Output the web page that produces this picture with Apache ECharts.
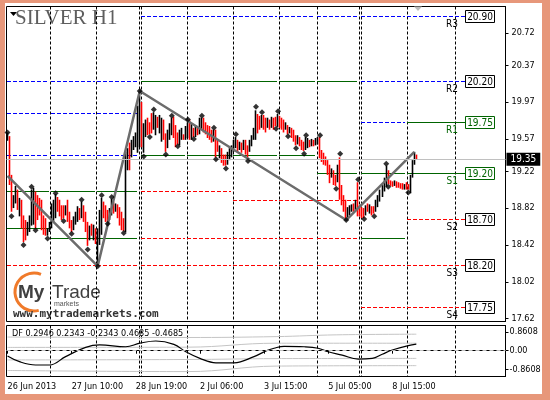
<!DOCTYPE html>
<html><head><meta charset="utf-8">
<script src="https://cdn.jsdelivr.net/npm/echarts/dist/echarts.min.js"></script>
<style>
html,body{margin:0;padding:0;background:#fff;}
#wrap{position:relative;width:550px;height:400px;background:#e7977a;overflow:hidden;}
#inner{position:absolute;left:5px;top:3px;width:537px;height:391px;background:#fff;}
#chart{position:absolute;left:0;top:0;width:550px;height:400px;}
</style></head><body>
<div id="wrap"><div id="inner"></div><div id="chart"></div></div>
<script>
const FONT = '"DejaVu Sans Condensed","Liberation Sans",sans-serif';
const N_CAT = 249;

// ---- axis ticks ----
const yTicks = [20.72, 20.37, 19.97, 19.57, 19.22, 18.82, 18.42, 18.02, 17.62];
const dfTicks = [0.8608, 0, -0.8608];
const xTickIdx = [0, 32, 64, 96, 128, 160, 192];
const xTickLabels = ['26 Jun 2013', '27 Jun 10:00', '28 Jun 19:00', '2 Jul 06:00', '3 Jul 15:00', '5 Jul 05:00', '8 Jul 15:00'];
const separators = [22, 45, 66, 67, 90, 113, 136, 155, 176, 177, 200, 224];
const dayStart = [0, 22, 45, 66, 67, 90, 113, 136, 155, 176, 177, 200];
const dayEnd   = [21, 44, 65, 66, 89, 112, 135, 154, 175, 176, 199, 229];

// ---- hourly bars (high / low / direction) ----
const highs = [
19.64,19.60,19.18,18.96,19.06,19.02,18.93,18.91,18.74,18.69,
18.67,18.74,19.02,19.04,19.00,18.96,18.93,18.91,18.74,18.71,
18.60,18.67,18.87,18.91,18.97,18.94,18.91,18.85,18.85,18.85,
18.91,18.78,18.69,18.73,18.78,18.84,18.82,18.89,18.85,18.78,
18.67,18.63,18.65,18.64,18.60,18.60,18.80,18.93,18.89,18.85,
18.80,18.82,18.92,18.89,18.87,18.86,18.83,18.78,18.71,19.43,
19.47,19.53,19.56,19.60,19.64,19.93,20.08,19.97,19.74,19.78,
19.80,19.75,19.85,19.86,19.83,19.81,19.83,19.80,19.78,19.63,
19.67,19.74,19.80,19.81,19.72,19.64,19.67,19.69,19.62,19.71,
19.75,19.78,19.74,19.69,19.72,19.69,19.80,19.80,19.80,19.75,
19.72,19.71,19.67,19.67,19.67,19.56,19.50,19.47,19.40,19.40,
19.43,19.47,19.50,19.56,19.59,19.56,19.54,19.53,19.56,19.56,
19.50,19.56,19.61,19.69,19.88,19.84,19.82,19.83,19.83,19.80,
19.80,19.78,19.81,19.80,19.81,19.84,19.82,19.80,19.78,19.75,
19.72,19.70,19.69,19.67,19.61,19.61,19.59,19.56,19.54,19.59,
19.58,19.56,19.57,19.56,19.58,19.59,19.59,19.45,19.42,19.38,
19.34,19.29,19.25,19.23,19.18,19.29,19.37,19.07,18.96,18.91,
18.83,18.85,18.86,18.87,18.91,19.10,18.85,18.83,18.82,18.85,
18.87,18.86,18.84,18.84,18.91,18.96,19.02,19.07,19.15,19.28,
19.23,19.12,19.11,19.12,19.11,19.10,19.09,19.09,19.08,19.10,
19.08,19.18,19.34,19.43,19.40];
const lows = [
19.55,19.07,18.78,18.82,18.87,18.80,18.73,18.60,18.45,18.47,
18.52,18.56,18.63,18.64,18.60,18.69,18.74,18.58,18.53,18.52,
18.52,18.56,18.60,18.67,18.71,18.78,18.73,18.69,18.71,18.74,
18.67,18.60,18.56,18.58,18.64,18.67,18.69,18.71,18.67,18.56,
18.41,18.47,18.52,18.47,18.43,18.20,18.42,18.53,18.71,18.67,
18.67,18.69,18.74,18.76,18.78,18.71,18.63,18.58,18.57,18.56,
19.23,19.23,19.37,19.45,19.48,19.42,19.48,19.48,19.42,19.59,
19.61,19.62,19.63,19.67,19.61,19.69,19.63,19.54,19.56,19.43,
19.47,19.56,19.61,19.58,19.48,19.51,19.50,19.56,19.56,19.56,
19.58,19.56,19.56,19.59,19.59,19.61,19.62,19.67,19.64,19.62,
19.58,19.56,19.53,19.54,19.37,19.43,19.36,19.31,19.28,19.28,
19.29,19.34,19.37,19.43,19.47,19.43,19.45,19.42,19.45,19.40,
19.36,19.43,19.49,19.56,19.56,19.63,19.67,19.69,19.67,19.64,
19.69,19.67,19.69,19.67,19.71,19.70,19.69,19.67,19.64,19.67,
19.62,19.63,19.58,19.54,19.50,19.51,19.49,19.45,19.44,19.45,
19.47,19.48,19.49,19.49,19.50,19.51,19.36,19.32,19.29,19.28,
19.18,19.09,19.15,19.07,19.06,19.10,18.91,18.85,18.78,18.70,
18.71,18.74,18.78,18.78,18.80,18.73,18.73,18.71,18.71,18.74,
18.78,18.76,18.74,18.76,18.78,18.83,18.89,18.94,19.00,19.05,
19.08,19.06,19.05,19.06,19.04,19.04,19.03,19.02,19.02,19.02,
19.02,18.98,19.15,19.29,19.35];
const barDir = (
'UDDUUDUDDD' + 'UUUUDDDDDD' + 'UUUUUDDDDU' + 'DDDUUUDUDD' + 'DUDUDUUUDD' +
'DUUDUDDDDU' + 'UDUUUUUDUU' + 'DDDUUDUUDD' + 'UUUDDDUUDU' + 'UDUDUDUUDD' +
'DDDUDDUDDD' + 'UUUUUDUDUD' + 'DUUUUDDUDD' + 'UDUDDUDDDU' + 'DUDDDUDDDU' +
'UDUDUUDDDD' + 'DDUDDUDDDD' + 'UUUDUDDDDU' + 'DUDDUUUUUU' + 'DDDUDDDDUD' + 'DUUUD').split('');

// ---- zigzag and fractals ----
const zigzag = [[0, 19.17], [45, 18.19], [66, 20.09], [169, 18.69], [203, 19.43]];
const fracUp = [[0,19.64],[12,19.05],[24,18.98],[37,18.91],[47,18.96],[52,18.94],[66,20.09],[73,19.89],[82,19.82],[90,19.78],[97,19.82],[103,19.69],[114,19.62],[124,19.92],[127,19.86],[135,19.87],[149,19.61],[156,19.61],[166,19.41],[175,19.13],[189,19.30]];
const fracDn = [[2,18.73],[8,18.42],[14,18.58],[20,18.49],[28,18.68],[32,18.54],[40,18.37],[45,18.19],[50,18.65],[58,18.55],[68,19.38],[71,19.59],[79,19.40],[85,19.49],[93,19.57],[104,19.35],[109,19.25],[120,19.33],[134,19.68],[140,19.60],[144,19.47],[148,19.41],[164,19.03],[169,18.69],[178,18.70],[183,18.73],[190,19.05],[200,18.99]];
const lastPrice = 19.35;

// ---- pivot levels: [price, style(0 blue dash,1 red dash,2 green), firstDay, lastDay] ----
const levels = [
 [20.20,0,0,2],[19.85,0,0,2],[19.40,0,0,2],[19.00,2,0,2],[18.60,2,0,0],[18.50,2,1,2],[18.20,1,0,2],
 [20.90,0,4,11],[20.20,2,4,8],[19.40,2,4,7],[19.00,1,4,5],[18.91,1,6,8],[18.50,1,4,8],[18.20,1,4,8],[19.20,2,8,11],
 [20.20,0,9,11],[19.75,0,9,10],[19.75,2,11,11],[18.50,2,9,10],[18.70,1,11,11],[18.20,1,9,11],[17.75,1,9,11]
];
const pivotNames  = ['R3','R2','R1','S1','S2','S3','S4'];
const pivotValues = [20.90, 20.20, 19.75, 19.20, 18.70, 18.20, 17.75];
const pivotGreen  = [0, 0, 1, 1, 0, 0, 0];

// ---- DF oscillator (sampled along the curve) ----
const dfParams = ['0.2946', '0.2343', '-0.2343', '0.4685', '-0.4685'];
const dfLine = [[0,-0.24],[6,-0.50],[14,-0.65],[21,-0.65],[29,-0.27],[39,0.15],[46,0.26],[59,0.18],[66,0.34],[74,0.44],[83,0.29],[89,-0.05],[96,-0.35],[104,-0.55],[113,-0.55],[123,-0.27],[129,-0.01],[133,0.11],[138,0.20],[148,0.18],[155,0.11],[160,-0.05],[167,-0.20],[175,-0.38],[182,-0.35],[187,-0.16],[192,0.03],[200,0.23],[204,0.2946]];
const bandUpOuter = [[0,0.62],[90,0.60],[134,0.64],[164,0.72],[204,0.75]];
const bandUpInner = [[0,0.15],[90,0.16],[134,0.34],[204,0.34]];
const bandLoInner = [[0,-0.42],[90,-0.40],[134,-0.36],[204,-0.35]];
const bandLoOuter = [[0,-0.90],[90,-0.95],[134,-0.70],[204,-0.68]];

// ---------------- build ----------------
const cats = Array.from({length: N_CAT}, (_, i) => String(i));
const ohlc = highs.map((h, i) => barDir[i] === 'U' ? [lows[i], h, lows[i], h] : [h, lows[i], lows[i], h]);
const labelMap = {}; xTickIdx.forEach((k, j) => labelMap[k] = xTickLabels[j]);
const segData = [];
levels.forEach(([p, st, d0, d1]) => {
  for (let d = d0; d <= d1; d++) if (dayEnd[d] > dayStart[d]) segData.push([dayStart[d], dayEnd[d], p, st]);
});
const segColors = ['#0000ff', '#ff0000', '#006400'];
const sepFn = (i) => separators.indexOf(i) >= 0;

const chart = echarts.init(document.getElementById('chart'), null, {renderer: 'canvas'});
const xBase = (gi) => ({
  type: 'category', gridIndex: gi, data: cats, boundaryGap: true,
  axisLine: {show: gi === 1, lineStyle: {color: '#000'}},
  axisTick: {show: gi === 1, alignWithLabel: true, interval: (i) => xTickIdx.indexOf(i) >= 0, length: 3, lineStyle: {color: '#000'}},
  axisLabel: {show: gi === 1, interval: (i) => xTickIdx.indexOf(i) >= 0, formatter: (v, i) => labelMap[i] || '',
    align: 'left', margin: 6, color: '#000', fontFamily: FONT, fontSize: 9},
  splitLine: {show: true, interval: sepFn, lineStyle: {color: '#000', type: [3, 2], width: 1}}
});

chart.setOption({
  animation: false,
  grid: [
    {left: 6.5, top: 6.5, width: 499, height: 315, show: true, borderColor: '#000', borderWidth: 1, backgroundColor: 'transparent'},
    {left: 6.5, top: 325.5, width: 499, height: 51, show: true, borderColor: '#000', borderWidth: 1, backgroundColor: 'transparent'}
  ],
  xAxis: [xBase(0), xBase(1)],
  yAxis: [
    {type: 'value', gridIndex: 0, position: 'right', min: 17.5895, max: 21.0063,
     axisLine: {show: true, lineStyle: {color: '#000'}},
     axisTick: {show: true, customValues: yTicks, length: 3, lineStyle: {color: '#000'}},
     axisLabel: {customValues: yTicks, formatter: (v) => v.toFixed(2), color: '#000', fontFamily: FONT, fontSize: 9, margin: 6},
     splitLine: {show: false}},
    {type: 'value', gridIndex: 1, position: 'right', min: -1.173, max: 1.145,
     axisLine: {show: true, lineStyle: {color: '#000'}},
     axisTick: {show: true, customValues: dfTicks, length: 3, lineStyle: {color: '#000'}},
     axisLabel: {customValues: dfTicks, formatter: (v) => Math.abs(v) < 1e-9 ? '0.00' : v.toFixed(4), color: '#000', fontFamily: FONT, fontSize: 9, margin: 4},
     splitLine: {show: false}}
  ],
  series: [
    {type: 'custom', name: 'levels', xAxisIndex: 0, yAxisIndex: 0, z: 1, data: segData, encode: {x: [0, 1], y: 2},
     renderItem: (params, api) => {
       const s = api.value(0), e = api.value(1), p = api.value(2), st = api.value(3);
       const bw = api.size([1, 0])[0];
       const a = api.coord([s, p]), b = api.coord([e - 1, p]);
       const y = Math.round(a[1]) + 0.5;
       return {type: 'line', shape: {x1: Math.round(a[0] - bw / 2), y1: y, x2: Math.round(b[0] + bw / 2), y2: y},
         style: {stroke: segColors[st], lineWidth: 1, lineDash: st === 2 ? null : [4, 2]}};
     }},
    {type: 'candlestick', name: 'SILVER', xAxisIndex: 0, yAxisIndex: 0, z: 3, barWidth: 1, data: ohlc,
     itemStyle: {color: '#000000', color0: '#ff0000', borderColor: '#000000', borderColor0: '#ff0000', borderWidth: 1.6},
     markLine: {silent: true, symbol: ['none', 'none'], animation: false,
       data: [{yAxis: lastPrice}],
       lineStyle: {color: '#c0c0c0', type: 'solid', width: 1},
       label: {show: true, position: 'end', distance: 1, formatter: lastPrice.toFixed(2), color: '#fff', backgroundColor: '#000',
         padding: [2, 4, 1, 4], fontFamily: FONT, fontSize: 10}}},
    {type: 'line', name: 'ZigZag', xAxisIndex: 0, yAxisIndex: 0, z: 4, data: zigzag, symbol: 'none',
     lineStyle: {color: '#6c6c6c', width: 2.5}},
    {type: 'scatter', name: 'FractalUp', xAxisIndex: 0, yAxisIndex: 0, z: 5, data: fracUp, symbol: 'diamond', symbolSize: 6,
     itemStyle: {color: '#000'}},
    {type: 'scatter', name: 'FractalDown', xAxisIndex: 0, yAxisIndex: 0, z: 5, data: fracDn, symbol: 'diamond', symbolSize: 6,
     itemStyle: {color: '#000'}},
    {type: 'custom', name: 'pivotLabels', xAxisIndex: 0, yAxisIndex: 0, z: 6, clip: false,
     data: pivotValues.map((v, k) => [229, v, k]), encode: {x: 0, y: 1},
     renderItem: (params, api) => {
       const p = api.value(1), k = api.value(2);
       const pt = api.coord([229, p]); const bw = api.size([1, 0])[0];
       const x = Math.round(pt[0] - bw / 2), y = Math.round(pt[1]);
       const col = pivotGreen[k] ? '#006400' : '#000';
       return {type: 'group', children: [
         {type: 'rect', shape: {x: x + 0.5, y: y - 6 + 0.5, width: 29, height: 12}, style: {fill: '#fff', stroke: col, lineWidth: 1}},
         {type: 'text', style: {text: p.toFixed(2), x: x + 15, y: y + 1, align: 'center', verticalAlign: 'middle', font: '10px ' + FONT, fill: col}},
         {type: 'text', style: {text: pivotNames[k], x: x - 7, y: y + 3, align: 'right', verticalAlign: 'top', font: '10px ' + FONT, fill: col}}
       ]};
     }},
    {type: 'line', name: 'bandUO', xAxisIndex: 1, yAxisIndex: 1, data: bandUpOuter, symbol: 'none', smooth: 0.4, lineStyle: {color: '#c4c4c4', width: 1}, z: 2},
    {type: 'line', name: 'bandUI', xAxisIndex: 1, yAxisIndex: 1, data: bandUpInner, symbol: 'none', smooth: 0.4, lineStyle: {color: '#c4c4c4', width: 1}, z: 2},
    {type: 'line', name: 'bandLI', xAxisIndex: 1, yAxisIndex: 1, data: bandLoInner, symbol: 'none', smooth: 0.4, lineStyle: {color: '#c4c4c4', width: 1}, z: 2},
    {type: 'line', name: 'bandLO', xAxisIndex: 1, yAxisIndex: 1, data: bandLoOuter, symbol: 'none', smooth: 0.4, lineStyle: {color: '#c4c4c4', width: 1}, z: 2},
    {type: 'line', name: 'DF', xAxisIndex: 1, yAxisIndex: 1, data: dfLine, symbol: 'none', smooth: 0.4, lineStyle: {color: '#000', width: 1.2}, z: 3,
     markLine: {silent: true, symbol: ['none', 'none'], label: {show: false}, data: [{yAxis: 0}], lineStyle: {color: '#c0c0c0', type: [4, 3], width: 1}}}
  ],
  graphic: [
    {type: 'polygon', shape: {points: [[10, 12], [17, 12], [13.5, 16]]}, style: {fill: '#000'}},
    {type: 'text', left: 15, top: 8, style: {text: 'SILVER H1', font: '21px "Liberation Serif", serif', fill: '#5e5e5e'}},
    {type: 'polygon', shape: {points: [[414, 6.5], [422, 6.5], [418, 11]]}, style: {fill: '#bdbdbd'}},
    {type: 'arc', shape: {cx: 34, cy: 292, r: 19, startAngle: Math.PI * 0.42, endAngle: Math.PI * 1.62, clockwise: true},
     style: {stroke: '#f07a2a', lineWidth: 3, fill: null}},
    {type: 'text', left: 18, top: 283, style: {text: 'My', font: 'bold 19px "Liberation Sans", sans-serif', fill: '#404040'}},
    {type: 'text', left: 52, top: 283, style: {text: 'Trade', font: '19px "Liberation Sans", sans-serif', fill: '#404040'}},
    {type: 'text', left: 54, top: 301, style: {text: 'markets', font: '7px "Liberation Sans", sans-serif', fill: '#555'}},
    {type: 'text', left: 13, top: 309, style: {text: 'www.mytrademarkets.com', font: 'bold 11px "DejaVu Sans Mono", monospace', fill: '#333'}},
    {type: 'text', left: 12, top: 329, style: {text: 'DF ' + dfParams.join(' '), font: '9px ' + FONT, fill: '#000'}}
  ]
});
</script></body></html>
